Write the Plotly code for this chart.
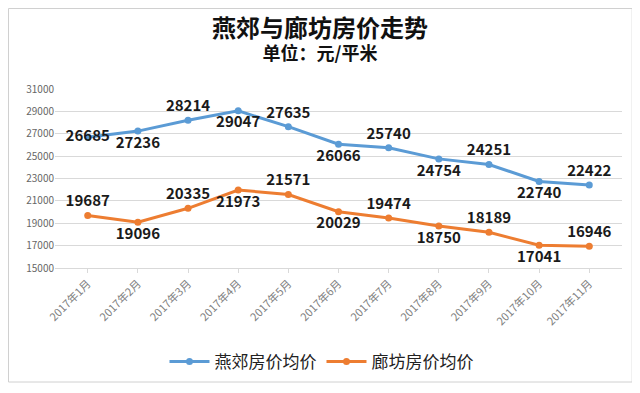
import plotly.graph_objects as go

months = ["2017年1月", "2017年2月", "2017年3月", "2017年4月", "2017年5月", "2017年6月",
          "2017年7月", "2017年8月", "2017年9月", "2017年10月", "2017年11月"]
yanjiao = [26685, 27236, 28214, 29047, 27635, 26066, 25740, 24754, 24251, 22740, 22422]
langfang = [19687, 19096, 20335, 21973, 21571, 20029, 19474, 18750, 18189, 17041, 16946]
yticks = [15000, 17000, 19000, 21000, 23000, 25000, 27000, 29000, 31000]

pos_alt = ["top center", "bottom center"] * 6
pos_alt = pos_alt[:len(months)]
blue_pos = list(pos_alt)
blue_pos[0] = "middle center"
orange_pos = list(pos_alt)

font_family = "Noto Sans CJK SC, Noto Sans, sans-serif"

# page body has an 8px default margin, so the figure is sized/placed to compensate
PH = 179.0  # plot height in px
fig = go.Figure()
fig.add_trace(go.Scatter(
    x=months, y=yanjiao, name="燕郊房价均价", mode="lines+markers+text",
    line=dict(color="#5B9BD5", width=3), marker=dict(size=7, color="#5B9BD5"),
    text=[str(v) for v in yanjiao], textposition=blue_pos,
    textfont=dict(size=15, color="#1a1a1a", family=font_family, weight="bold"),
    cliponaxis=False,
))
fig.add_trace(go.Scatter(
    x=months, y=langfang, name="廊坊房价均价", mode="lines+markers+text",
    line=dict(color="#ED7D31", width=3), marker=dict(size=7, color="#ED7D31"),
    text=[str(v) for v in langfang], textposition=orange_pos,
    textfont=dict(size=15, color="#1a1a1a", family=font_family, weight="bold"),
    cliponaxis=False,
))

fig.update_layout(
    width=632, height=385,
    paper_bgcolor="white", plot_bgcolor="white",
    margin=dict(l=47, r=18, t=81, b=125, autoexpand=False),
    font=dict(family=font_family),
    showlegend=True,
    legend=dict(orientation="h", x=0.47, xanchor="center", y=(268 - 362) / PH, yanchor="middle",
                font=dict(size=17, color="#222222", family=font_family),
                itemwidth=40),
    xaxis=dict(
        type="category", tickangle=-45, showgrid=False, automargin=False,
        tickfont=dict(size=11, color="#808080"),
        showline=True, linecolor="#d9d9d9", ticks="outside", tickcolor="#d9d9d9", ticklen=4,
    ),
    yaxis=dict(
        range=[15000, 31000], tickvals=yticks, ticktext=[str(v) for v in yticks],
        showgrid=True, gridcolor="#d9d9d9", zeroline=False, automargin=False,
        tickfont=dict(size=10, color="#666666"),
    ),
    annotations=[
        dict(text="<span style='font-size:24px'><b>燕郊与廊坊房价走势</b></span><br><b>单位：元/平米</b>",
             xref="paper", yref="paper",
             x=0.467, y=(268 - 8) / PH, xanchor="center", yanchor="top",
             showarrow=False, borderpad=0,
             font=dict(size=18, color="#111111", family=font_family)),
    ],
    shapes=[dict(type="rect", xref="paper", yref="paper", x0=-46.5 / 567, x1=1.018,
                 y0=(268 - 382) / PH, y1=(268 - 8.5) / PH, line=dict(color="#d0d0d0", width=1))],
)

fig.write_html("out.html")
